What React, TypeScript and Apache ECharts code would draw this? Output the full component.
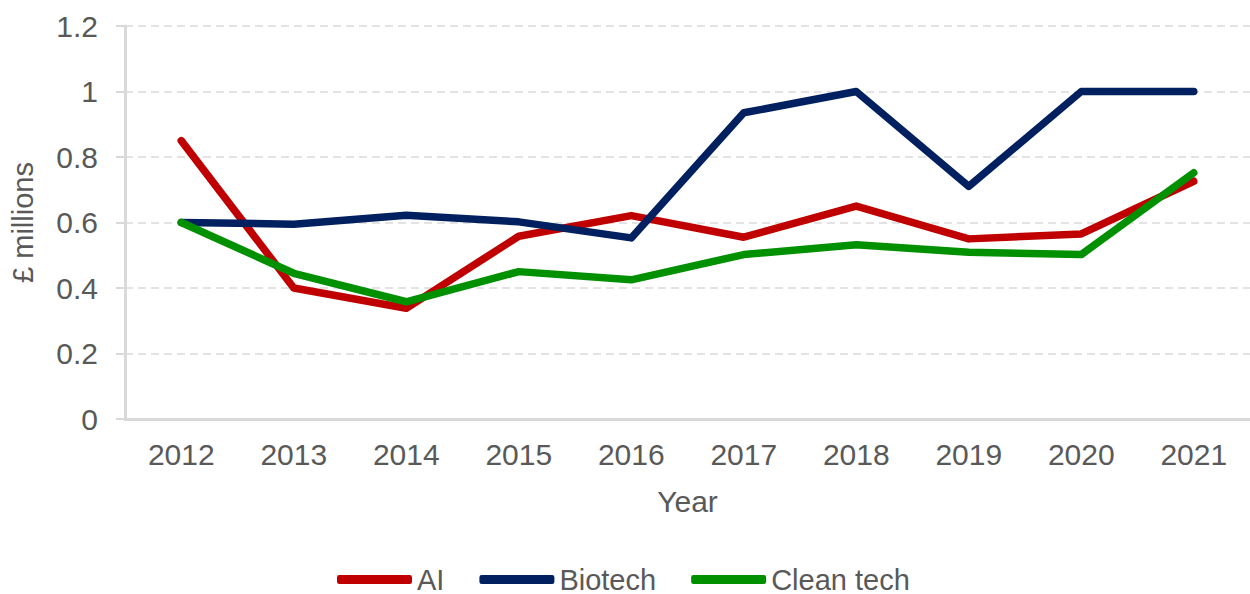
import React, { useEffect, useRef } from "react";
import * as echarts from "echarts";

const years = ["2012", "2013", "2014", "2015", "2016", "2017", "2018", "2019", "2020", "2021"];
const aiValues = [0.85, 0.4, 0.338, 0.558, 0.621, 0.555, 0.65, 0.55, 0.565, 0.726];
const biotechValues = [0.6, 0.595, 0.622, 0.602, 0.553, 0.935, 1.0, 0.71, 1.0, 1.0];
const cleanTechValues = [0.6, 0.445, 0.358, 0.45, 0.425, 0.502, 0.532, 0.509, 0.502, 0.752];
const yTicks = [0, 0.2, 0.4, 0.6, 0.8, 1, 1.2];

const FONT = "Liberation Sans, Arial, sans-serif";
const TEXT = "#595959";
const AXIS = "#d9d9d9";

export default function App() {
  const ref = useRef<HTMLDivElement>(null);
  useEffect(() => {
    if (!ref.current) return;
    const chart = echarts.init(ref.current, null, { renderer: "svg" });
    const mk = (name: string, data: number[], color: string) => ({
      name,
      type: "line",
      data,
      symbol: "none",
      color,
      lineStyle: { width: 7.5, color, cap: "round", join: "round" },
    });
    chart.setOption({
      animation: false,
      textStyle: { fontFamily: FONT },
      grid: { left: 125, right: -9, top: 26, bottom: 175, containLabel: false },
      legend: {
        left: 332,
        top: 560,
        icon: "roundRect",
        itemWidth: 75,
        itemHeight: 9,
        itemGap: 35,
        textStyle: { fontSize: 29, color: TEXT, fontFamily: FONT },
        data: ["AI", "Biotech", "Clean tech"],
      },
      xAxis: {
        type: "category",
        data: years,
        boundaryGap: true,
        name: "Year",
        nameLocation: "middle",
        nameGap: 67,
        nameTextStyle: { fontSize: 30, color: TEXT, fontFamily: FONT },
        axisLine: { lineStyle: { color: AXIS, width: 3 } },
        axisTick: { alignWithLabel: true, length: 6, lineStyle: { color: AXIS, width: 2 } },
        axisLabel: { fontSize: 30, color: TEXT, margin: 20, fontFamily: FONT },
      },
      yAxis: {
        type: "value",
        min: 0,
        max: 1.2,
        interval: 0.2,
        name: "£ millions",
        nameLocation: "middle",
        nameGap: 88,
        nameTextStyle: { fontSize: 29, color: TEXT, fontFamily: FONT },
        axisLine: { show: true, lineStyle: { color: AXIS, width: 3 } },
        axisTick: { show: true, length: 9, lineStyle: { color: AXIS, width: 2 } },
        axisLabel: {
          fontSize: 30,
          color: TEXT,
          margin: 27,
          fontFamily: FONT,
          formatter: (v: number) => {
            const t = yTicks.find((x) => Math.abs(x - v) < 1e-9);
            return String(t !== undefined ? t : v);
          },
        },
        splitLine: { show: true, lineStyle: { color: "#e3e3e3", width: 2, type: [8, 5] } },
      },
      series: [
        mk("AI", aiValues, "#C00000"),
        mk("Biotech", biotechValues, "#002060"),
        mk("Clean tech", cleanTechValues, "#009000"),
      ],
    });
    return () => chart.dispose();
  }, []);
  return (
    <div style={{ position: "absolute", left: 0, top: 0, width: 1250, height: 594, overflow: "hidden", background: "#fff" }}>
      <div ref={ref} style={{ width: 1250, height: 594 }} />
    </div>
  );
}
